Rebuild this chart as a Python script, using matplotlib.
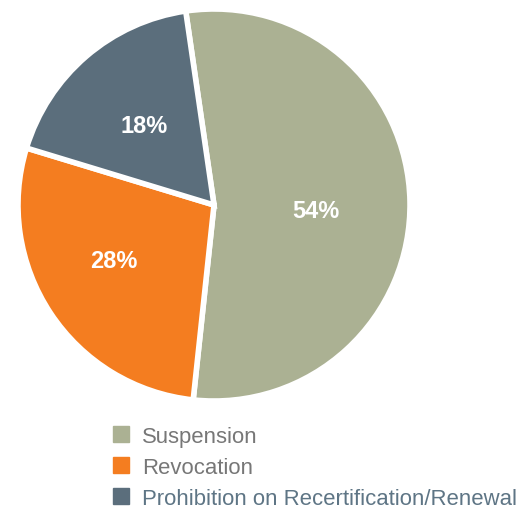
import matplotlib.pyplot as plt
from matplotlib.patches import Rectangle

labels = ['Suspension', 'Revocation', 'Prohibition on Recertification/Renewal']
shares = [54, 28, 18]
colors = ['#abb193', '#f47d20', '#5b6e7c']
text_colors = ['#777777', '#777777', '#5e7585']

plt.rcParams['font.family'] = ['Liberation Sans', 'DejaVu Sans']

W, H = 531, 510
fig = plt.figure(figsize=(W / 100, H / 100), dpi=100)

# pie centred at (214, 206) px, radius 196 px
cx, cy, r = 214, 206, 196
ax = fig.add_axes([(cx - r) / W, (H - cy - r) / H, 2 * r / W, 2 * r / H])
wedges, texts, autotexts = ax.pie(
    shares, colors=colors, startangle=98.3, counterclock=False,
    autopct='%d%%', pctdistance=0.55,
    wedgeprops=dict(edgecolor='white', linewidth=4),
    textprops=dict(color='white', fontsize=17, fontweight='bold'))
# nudge the percentage labels a little
for t, (dx, dy) in zip(autotexts, [(-0.03, -0.04), (-0.05, 0.02), (0.0, -0.01)]):
    x, y = t.get_position()
    t.set_position((x + dx, y + dy))
ax.set_xlim(-1.0, 1.0)
ax.set_ylim(-1.0, 1.0)
ax.set_aspect('equal')
ax.axis('off')

# legend drawn by hand in pixel coordinates
baselines = [443, 474, 505]
for lab, col, tcol, yb in zip(labels, colors, text_colors, baselines):
    fig.patches.append(Rectangle((113 / W, (H - yb) / H), 16 / W, 16 / H,
                                 transform=fig.transFigure, color=col))
    fig.text(142 / W, (H - yb) / H, lab, color=tcol, fontsize=15.9,
             va='baseline', ha='left')

fig.savefig('out.png', dpi=100)
